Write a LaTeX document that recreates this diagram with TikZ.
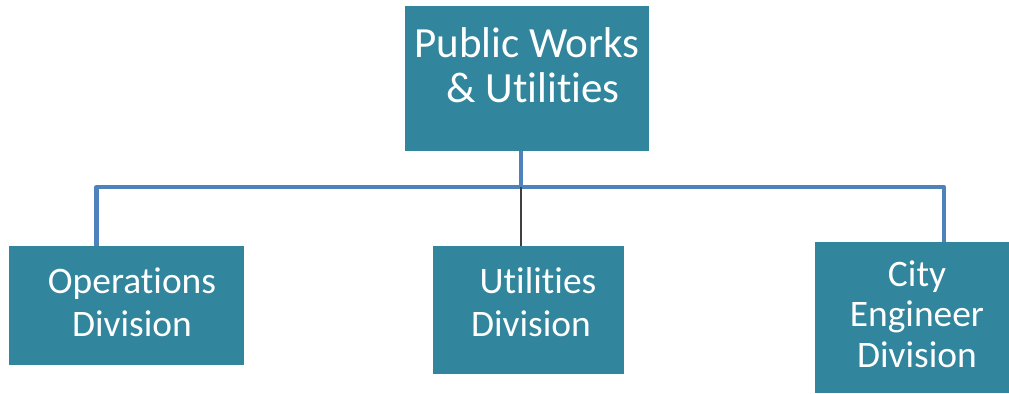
\documentclass[tikz,border=0pt]{standalone}
\usepackage{fontspec}
\setmainfont[Ligatures=NoCommon]{Carlito}
\usepackage{tikz}
\usetikzlibrary{calc}
\usetikzlibrary{positioning}
\definecolor{divteal}{HTML}{31859C}
\definecolor{busblue}{HTML}{4F81BD}
\definecolor{stemgray}{HTML}{404040}
\tikzset{
  divbox/.style={
      draw=none, fill=divteal, rectangle, inner sep=0pt
    },
  divtext/.style={
      text=white, align=center, inner sep=0pt
    },
  busline/.style={
      line width=2.3pt, busblue, line join=round
    },
  stemline/.style={
      line width=1.2pt, stemgray
    },
}

\begin{document}
\begin{tikzpicture}[x=0.02cm, y=-0.02cm]
      \useasboundingbox (0,0) rectangle (1009,393);

      % boxes
      \node [divbox, minimum width=244*0.02cm, minimum height=145*0.02cm]
      (pw) at (527,78.5) {};
      \node [divbox, minimum width=235*0.02cm, minimum height=119*0.02cm]
      (ops) at (126.5,305.5) {};
      \node [divbox, minimum width=191*0.02cm, minimum height=128*0.02cm]
      (util) at (528.5,310) {};
      \node [divbox, minimum width=194*0.02cm, minimum height=151*0.02cm]
      (eng) at (912,317.5) {};

      % texts
      \node [divtext, font=\fontsize{24.5}{25.5}\selectfont]
      (pwtext) at (527,65) {Public Works\\ \hspace{0.24cm}\& Utilities};
      \node [divtext, font=\fontsize{21.3}{24.4}\selectfont]
      (opstext) at (132,302) {Operations\\Division};
      \node [divtext, font=\fontsize{21.3}{24.4}\selectfont]
      (utiltext) at (531,302) {\hspace{0.28cm}Utilities\\Division};
      \node [divtext, font=\fontsize{21.3}{23}\selectfont]
      (engtext) at (917,314) {City\\Engineer\\Division};

      % connectors
      \coordinate (bus) at (521,187);
      \draw [busline] ([xshift=-6*0.02cm]pw.south) -- (bus);
      \draw [busline] ([xshift=-30*0.02cm]ops.north) |- (bus)
      -| ([xshift=32*0.02cm]eng.north);
      \draw [stemline] (bus) -- (bus |- util.north);

    \end{tikzpicture}
\end{document}
